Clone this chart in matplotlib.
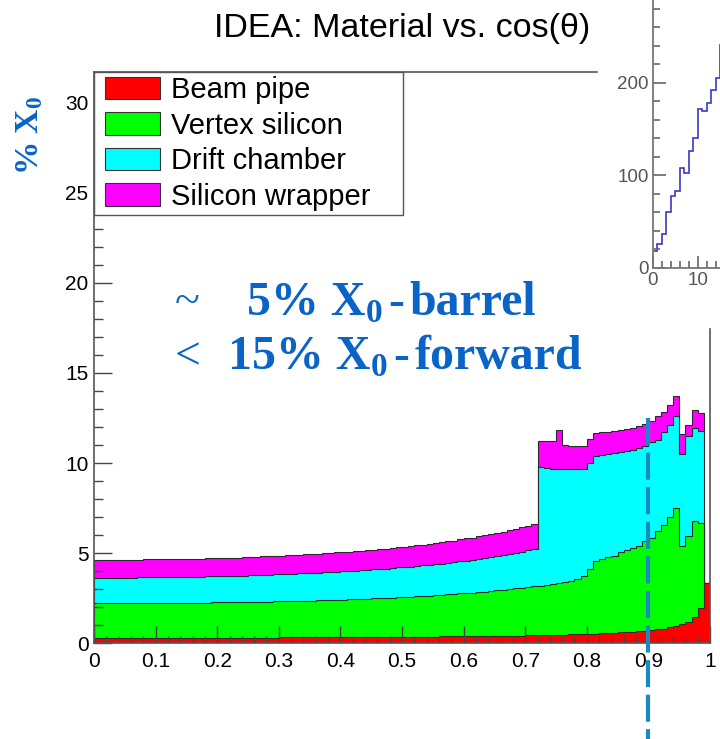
import numpy as np
import matplotlib
matplotlib.use("Agg")
import matplotlib.pyplot as plt
from matplotlib.patches import Patch, Rectangle
from matplotlib.legend_handler import HandlerPatch
from matplotlib.ticker import MultipleLocator, FixedLocator

# ---------------------------------------------------------------- data
# material budget per cos(theta) bin (% X0), one list per sub-detector
bin_edges = np.linspace(0.0, 1.0, 101)

beam_pipe = [
    0.31, 0.31, 0.31, 0.31, 0.31, 0.31, 0.31, 0.31, 0.31, 0.31,
    0.31, 0.31, 0.31, 0.31, 0.31, 0.31, 0.31, 0.31, 0.32, 0.32,
    0.32, 0.32, 0.32, 0.32, 0.32, 0.32, 0.32, 0.32, 0.32, 0.32,
    0.33, 0.33, 0.33, 0.33, 0.33, 0.33, 0.33, 0.33, 0.34, 0.34,
    0.34, 0.34, 0.34, 0.34, 0.35, 0.35, 0.35, 0.35, 0.35, 0.36,
    0.36, 0.36, 0.36, 0.37, 0.37, 0.37, 0.38, 0.38, 0.38, 0.39,
    0.39, 0.39, 0.40, 0.40, 0.41, 0.41, 0.42, 0.42, 0.43, 0.43,
    0.44, 0.44, 0.45, 0.46, 0.46, 0.47, 0.48, 0.49, 0.50, 0.51,
    0.52, 0.54, 0.55, 0.56, 0.58, 0.60, 0.62, 0.64, 0.67, 0.70,
    0.73, 0.77, 0.82, 0.88, 0.95, 1.05, 1.18, 1.45, 1.95, 3.37,
]

vertex_silicon = [
    1.91, 1.91, 1.91, 1.91, 1.91, 1.91, 1.91, 1.92, 1.92, 1.92,
    1.92, 1.92, 1.93, 1.93, 1.93, 1.93, 1.94, 1.94, 1.94, 1.95,
    1.95, 1.96, 1.96, 1.96, 1.97, 1.98, 1.98, 1.99, 1.99, 2.00,
    2.01, 2.01, 2.02, 2.03, 2.04, 2.04, 2.05, 2.06, 2.07, 2.08,
    2.09, 2.10, 2.11, 2.12, 2.13, 2.14, 2.16, 2.17, 2.18, 2.20,
    2.21, 2.23, 2.24, 2.26, 2.28, 2.30, 2.31, 2.33, 2.35, 2.38,
    2.40, 2.42, 2.45, 2.47, 2.50, 2.53, 2.56, 2.59, 2.62, 2.66,
    2.69, 2.73, 2.74, 2.78, 2.82, 2.86, 2.91, 2.97, 3.05, 3.23,
    3.61, 4.03, 4.13, 4.22, 4.27, 4.44, 4.53, 4.64, 4.74, 4.95,
    5.14, 5.47, 5.75, 6.12, 6.55, 4.37, 4.78, 5.31, 4.72, 0.00,
]

drift_chamber = [
    1.43, 1.43, 1.43, 1.43, 1.43, 1.43, 1.43, 1.43, 1.44, 1.44,
    1.44, 1.44, 1.44, 1.44, 1.45, 1.45, 1.45, 1.45, 1.46, 1.46,
    1.46, 1.46, 1.47, 1.47, 1.47, 1.48, 1.48, 1.49, 1.49, 1.50,
    1.50, 1.51, 1.51, 1.52, 1.52, 1.53, 1.54, 1.54, 1.55, 1.56,
    1.56, 1.57, 1.58, 1.59, 1.60, 1.61, 1.62, 1.63, 1.64, 1.65,
    1.66, 1.67, 1.68, 1.69, 1.71, 1.72, 1.73, 1.75, 1.76, 1.78,
    1.80, 1.81, 1.83, 1.85, 1.87, 1.89, 1.91, 1.94, 1.96, 1.99,
    2.02, 2.05, 6.59, 6.48, 6.40, 6.35, 6.29, 6.22, 6.13, 5.94,
    5.90, 5.80, 5.76, 5.72, 5.71, 5.58, 5.53, 5.46, 5.42, 5.28,
    5.30, 5.06, 5.15, 5.13, 5.09, 5.10, 5.52, 5.18, 5.09, 0.00,
]

silicon_wrapper = [
    0.98, 0.98, 0.98, 0.98, 0.98, 0.98, 0.98, 0.98, 0.98, 0.98,
    0.99, 0.99, 0.99, 0.99, 0.99, 0.99, 0.99, 1.00, 1.00, 1.00,
    1.00, 1.00, 1.01, 1.01, 1.01, 1.01, 1.02, 1.02, 1.02, 1.03,
    1.03, 1.03, 1.04, 1.04, 1.04, 1.05, 1.05, 1.06, 1.06, 1.07,
    1.07, 1.08, 1.08, 1.09, 1.09, 1.10, 1.11, 1.11, 1.12, 1.13,
    1.14, 1.14, 1.15, 1.16, 1.17, 1.18, 1.19, 1.20, 1.21, 1.22,
    1.23, 1.24, 1.26, 1.27, 1.28, 1.30, 1.31, 1.33, 1.35, 1.36,
    1.38, 1.40, 1.46, 1.48, 1.52, 2.13, 1.34, 1.28, 1.28, 1.28,
    1.30, 1.30, 1.26, 1.24, 1.22, 1.22, 1.21, 1.22, 1.24, 1.25,
    1.16, 1.29, 1.09, 1.11, 1.11, 1.09, 0.61, 0.98, 1.01, 0.00,
]

layer_labels = ["Beam pipe", "Vertex silicon", "Drift chamber", "Silicon wrapper"]
layer_colors = ["#ff0000", "#00ff00", "#00ffff", "#ff00ff"]

xtick_values = [0.0, 0.1, 0.2, 0.3, 0.4, 0.5, 0.6, 0.7, 0.8, 0.9, 1.0]
xtick_labels = ["0", "0.1", "0.2", "0.3", "0.4", "0.5", "0.6", "0.7", "0.8", "0.9", "1"]
ytick_values = [0, 5, 10, 15, 20, 25, 30]

forward_boundary = 0.9          # cos(theta) of the dashed marker

# small side histogram (partly visible, upper right)
side_edges = np.arange(0, 17)
side_counts = [18, 26, 37, 60, 78, 83, 108, 103, 127, 140, 172, 170, 178, 192, 205, 241]

# ---------------------------------------------------------------- style
plt.rcParams["font.family"] = ["Liberation Sans", "DejaVu Sans"]
plt.rcParams["mathtext.fontset"] = "custom"
plt.rcParams["mathtext.rm"] = "Liberation Serif:bold"
plt.rcParams["mathtext.it"] = "Liberation Serif:bold"
plt.rcParams["mathtext.bf"] = "Liberation Serif:bold"

W, H = 720, 739
fig = plt.figure(figsize=(W / 100, H / 100), dpi=100)
renderer = fig.canvas.get_renderer()

def fx(px):
    return px / W

def fy(py):
    return 1 - py / H

ax = fig.add_axes([fx(94), fy(643.3), fx(710) - fx(94), fy(72) - fy(643.3)])
ax.set_xlim(0, 1)
ax.set_ylim(0, 31.7)

# stacked histogram, drawn from the total down to the bottom layer
layers = [beam_pipe, vertex_silicon, drift_chamber, silicon_wrapper]
cumulative = np.cumsum(np.array(layers, dtype=float), axis=0)
for level in range(len(layers) - 1, -1, -1):
    ax.stairs(cumulative[level], bin_edges, baseline=0, fill=True,
              facecolor=layer_colors[level], edgecolor="#2a2a2a",
              linewidth=0.8, zorder=1 + (3 - level) * 0.01)

# axes cosmetics (ROOT-like)
ax.xaxis.set_major_locator(FixedLocator(xtick_values))
ax.set_xticklabels(xtick_labels)
ax.xaxis.set_minor_locator(MultipleLocator(0.02))
ax.yaxis.set_major_locator(FixedLocator(ytick_values))
ax.yaxis.set_minor_locator(MultipleLocator(1))
ax.tick_params(axis="both", which="both", direction="in", top=False, right=False,
               colors="#444444", labelcolor="black", labelsize=15, width=1.0)
ax.tick_params(axis="x", which="major", length=12.5, pad=6)
ax.tick_params(axis="x", which="minor", length=5)
ax.tick_params(axis="y", which="major", length=13, pad=4)
ax.tick_params(axis="y", which="minor", length=6.5)
for side in ax.spines.values():
    side.set_color("#555555")
    side.set_linewidth(1.2)
ax.spines["right"].set_bounds(0, 17.46)
ax.spines["top"].set_bounds(0, 0.8166)


# legend: colour boxes indented a little from the frame
def indented_box(legend, orig_handle, xdescent, ydescent, width, height, fontsize):
    indent = 5.0
    return Rectangle((-xdescent + indent, -ydescent), width - indent, height)


handles = [Patch(facecolor=c, edgecolor="#333333", linewidth=0.8, label=l)
           for c, l in zip(layer_colors, layer_labels)]
leg = ax.legend(handles=handles, loc="upper left",
                bbox_to_anchor=(0, 0, 309 / 616, 1), mode="expand",
                borderaxespad=0, fontsize=21, handlelength=2.12,
                handleheight=0.82, handletextpad=0.38, labelspacing=0.26,
                borderpad=0.14, fancybox=False, framealpha=1,
                edgecolor="#555555",
                handler_map={Patch: HandlerPatch(patch_func=indented_box)})
leg.get_frame().set_linewidth(1.0)

# forward marker line
ax.plot([forward_boundary, forward_boundary], [12.5, -5.4], color="#1a8bc2",
        linewidth=3, linestyle=(0, (6.5, 1.8)), clip_on=False, zorder=6)

# titles and annotations
fig.text(fx(402), fy(37), "IDEA: Material vs. cos(θ)", ha="center",
         va="baseline", fontsize=24.5, color="black")

blue = "#0a64c8"
fig.text(fx(30), fy(136), "% X$_0$", rotation=90, ha="center", va="center",
         fontsize=24, family="Liberation Serif", weight="bold", color=blue)


def text_run(x_px, base_px, pieces):
    """Write pieces (text, size, weight, drop, gap) one after another."""
    x = x_px
    for s, size, weight, drop, gap in pieces:
        x += gap
        t = fig.text(fx(x), fy(base_px + drop), s, ha="left", va="baseline",
                     fontsize=size, family="Liberation Serif", weight=weight,
                     color=blue)
        x = t.get_window_extent(renderer).x1


text_run(175, 315, [("~", 33, "normal", -1, 0)])
text_run(247, 315, [("5% X", 34.5, "bold", 0, 0), ("0", 24, "bold", 7, 0),
                    ("-", 34.5, "bold", 0, 6), ("barrel", 34.5, "bold", 0, 6)])
text_run(175, 369, [("<", 33, "normal", 0, 0)])
text_run(228, 369, [("15% X", 34.5, "bold", 0, 0), ("0", 24, "bold", 7, 0),
                    ("-", 34.5, "bold", 0, 6), ("forward", 34.5, "bold", 0, 6)])

# side histogram
ax_in = fig.add_axes([fx(653), fy(268), fx(720) - fx(653), fy(0) - fy(268)])
ax_in.patch.set_alpha(0)
ax_in.set_xlim(0, 14.9)
ax_in.set_ylim(0, 289.7)
ax_in.stairs(side_counts, side_edges, baseline=None, color="#3a3ac4",
             linewidth=1.2)
ax_in.spines["top"].set_visible(False)
ax_in.spines["right"].set_visible(False)
for s in ("left", "bottom"):
    ax_in.spines[s].set_color("#777777")
    ax_in.spines[s].set_linewidth(1.3)
ax_in.xaxis.set_major_locator(FixedLocator([0, 10]))
ax_in.xaxis.set_minor_locator(MultipleLocator(2))
ax_in.yaxis.set_major_locator(FixedLocator([0, 100, 200]))
ax_in.yaxis.set_minor_locator(MultipleLocator(20))
ax_in.tick_params(axis="both", which="both", direction="in", colors="#666666",
                  labelcolor="#555555", labelsize=13.5, width=1.2)
ax_in.tick_params(axis="both", which="major", length=9, pad=3)
ax_in.tick_params(axis="both", which="minor", length=5)

fig.savefig("out.png", dpi=100)
